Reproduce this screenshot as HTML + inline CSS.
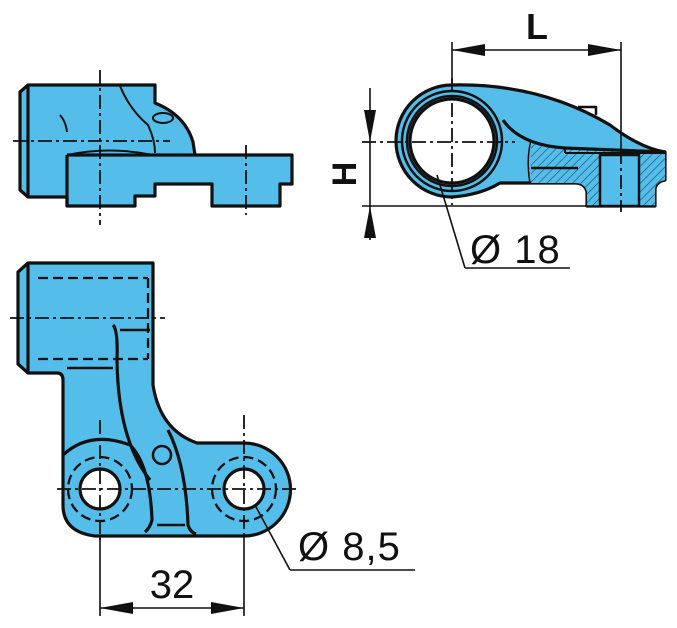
<!DOCTYPE html>
<html><head><meta charset="utf-8"><style>
html,body{margin:0;padding:0;background:#fff;}
svg{display:block;}
text{font-family:"Liberation Sans",sans-serif;fill:#111;}
</style></head><body>
<svg width="677" height="628" viewBox="0 0 677 628" xmlns="http://www.w3.org/2000/svg">
<defs>
<pattern id="hatch" width="6" height="6" patternUnits="userSpaceOnUse" patternTransform="rotate(45)">
<rect width="6" height="6" fill="#55bde9"/><line x1="0" y1="0" x2="0" y2="6" stroke="#1a4a66" stroke-width="1.2"/>
</pattern>
</defs>
<g stroke="#111" stroke-width="3.2" stroke-linejoin="round" fill="#55bde9">
<path d="M20,92 L28,85 L155,85 L155,103 Q185,115 193,142 L195,155 L292,155 L292,184 L280,184 L280,206 L212,206 L212,184 L155,184 L155,196 L135,196 L135,206 L67,206 L67,197 L28,197 L20,190 Z"/>
<line x1="28" y1="85" x2="28" y2="197"/>
<line x1="67" y1="155" x2="67" y2="206"/>
<line x1="67" y1="155" x2="195" y2="155"/>
<path d="M67,155 Q110,146 153,155" fill="none" stroke-width="2"/>
<path d="M120,86 Q130,110 148,125 Q155,140 155,153" fill="none" stroke-width="2"/>
<path d="M60,115 Q66,122 67,132" fill="none" stroke-width="2"/>
<ellipse cx="163" cy="118" rx="10" ry="5" stroke-width="2"/>
<path d="M452,85 Q540,83 610,125 Q640,148 665,152 L665,180 Q655,182 655,190 L655,206 L587,206 L587,192 Q585,183 575,183 L500,183 Q480,195 452,197 A56,56 0 0 1 452,85 Z"/>
<path d="M531,140 L545,145 Q585,152 665,152 L665,180 Q655,182 655,190 L655,206 L587,206 L587,192 Q585,183 575,183 L531,183 Z" fill="url(#hatch)" stroke="none"/>
<rect x="600" y="155" width="39" height="51" stroke-width="2.5"/>
<path d="M503,120 Q520,145 565,148 L665,152" fill="none"/>
<line x1="565" y1="148" x2="565" y2="153" stroke-width="2"/>
<line x1="565" y1="153" x2="665" y2="153" stroke-width="2"/>
<path d="M531,140 Q526,160 530,183" fill="none" stroke-width="1.5"/>
<line x1="531" y1="168" x2="578" y2="168" stroke-width="2.5"/>
<path d="M578,107 L596,107 L596,115" fill="none" stroke-width="2.5"/>
<circle cx="452" cy="141" r="50" stroke-width="2.5"/>
<circle cx="452" cy="141" r="45" stroke-width="2.5"/>
<circle cx="452" cy="141" r="42" fill="#fff"/>
<path d="M18,272 L28,263 L153,263 L153,385 Q160,430 197,443 L244,443 A45,45 0 0 1 244,536 L95,536 Q63,532 63,505 L63,380 Q63,373 57,373 L28,373 L18,364 Z"/>
<line x1="28" y1="263" x2="28" y2="373"/>
<path d="M63,455 Q90,430 130,445 Q150,465 152,520 Q150,528 145,532" fill="none"/>
<path d="M113,325 Q118,330 117,360 Q118,440 150,480" fill="none"/>
<path d="M168,430 Q186,465 188,525 Q190,532 196,534" fill="none"/>
<line x1="157" y1="525" x2="185" y2="525" stroke-width="2.5"/>
<line x1="120" y1="330" x2="150" y2="330" stroke-width="2.5"/>
<line x1="67" y1="368" x2="113" y2="368" stroke-width="2.5"/>
<circle cx="162" cy="455" r="9" stroke-width="2.5"/>
<circle cx="100" cy="489" r="20" fill="#fff"/>
<circle cx="244" cy="489" r="20" fill="#fff"/>
</g>
<g stroke="#111" stroke-width="2.3" fill="none" stroke-dasharray="10,5">
<line x1="38" y1="278" x2="148" y2="278"/>
<line x1="38" y1="359" x2="148" y2="359"/>
<line x1="148" y1="278" x2="148" y2="359"/>
<circle cx="100" cy="489" r="32"/>
<circle cx="244" cy="489" r="32"/>
</g>
<g stroke="#111" stroke-width="1.8" fill="none" stroke-dasharray="14,4,3,4">
<line x1="100" y1="70" x2="100" y2="225"/>
<line x1="13" y1="141" x2="170" y2="141"/>
<line x1="246" y1="145" x2="246" y2="215"/>
<line x1="362" y1="142" x2="515" y2="142"/>
<line x1="452" y1="78" x2="452" y2="205"/>
<line x1="621" y1="150" x2="621" y2="212"/>
<line x1="10" y1="318" x2="165" y2="318"/>
<line x1="57" y1="489" x2="297" y2="489"/>
<line x1="100" y1="420" x2="100" y2="540"/>
<line x1="244" y1="415" x2="244" y2="540"/>
</g>
<g stroke="#111" stroke-width="1.6" fill="none">
<line x1="452" y1="42" x2="452" y2="85"/>
<line x1="621" y1="42" x2="621" y2="150"/>
<line x1="452" y1="50" x2="621" y2="50"/>
<line x1="362" y1="206" x2="655" y2="206"/>
<line x1="370" y1="88" x2="370" y2="240"/>
<line x1="437" y1="175" x2="465" y2="268"/>
<line x1="465" y1="268" x2="570" y2="268"/>
<line x1="100" y1="536" x2="100" y2="616"/>
<line x1="244" y1="536" x2="244" y2="616"/>
<line x1="100" y1="608" x2="244" y2="608"/>
<line x1="255" y1="505" x2="290" y2="570"/>
<line x1="290" y1="570" x2="415" y2="570"/>
</g>
<g fill="#111">
<polygon points="452,50 485,44 485,56"/>
<polygon points="621,50 588,44 588,56"/>
<polygon points="370,142 364,110 376,110"/>
<polygon points="370,206 364,238 376,238"/>
<polygon points="100,608 133,602 133,614"/>
<polygon points="244,608 211,602 211,614"/>
</g>
<text x="537" y="39" font-size="36" font-weight="bold" text-anchor="middle">L</text>
<text x="0" y="0" font-size="34" font-weight="bold" text-anchor="middle" transform="translate(356,174) rotate(-90)">H</text>
<text x="470" y="263" font-size="40" letter-spacing="1">Ø 18</text>
<text x="298" y="560" font-size="40" letter-spacing="1">Ø 8,5</text>
<text x="172" y="598" font-size="40" text-anchor="middle">32</text>
</svg>
</body></html>
